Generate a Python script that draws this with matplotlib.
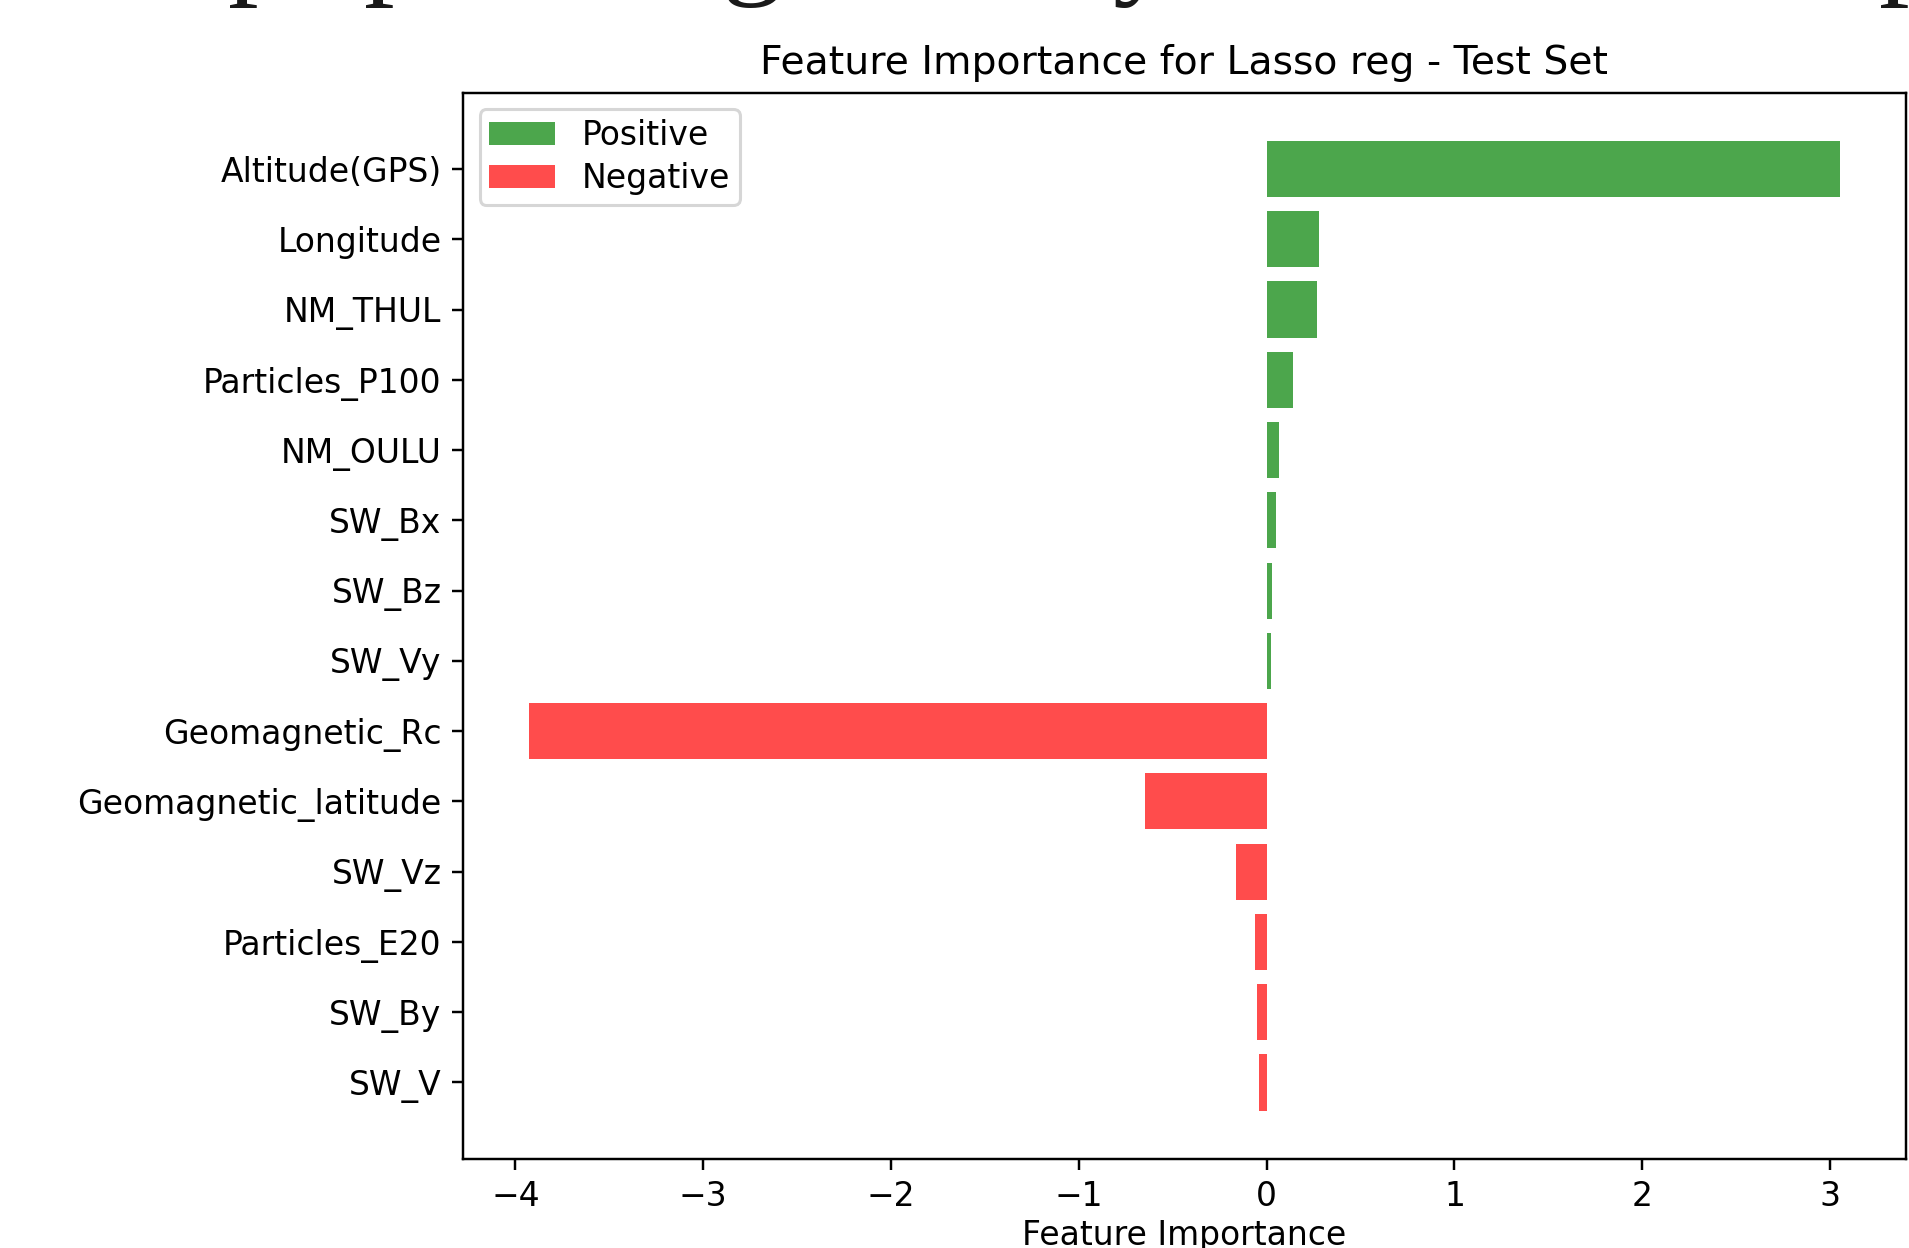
import numpy as np
import matplotlib
matplotlib.use("Agg")
import matplotlib.pyplot as plt

# Lasso coefficients on the test set, listed top to bottom
features = ["Altitude(GPS)", "Longitude", "NM_THUL", "Particles_P100", "NM_OULU",
            "SW_Bx", "SW_Bz", "SW_Vy", "Geomagnetic_Rc", "Geomagnetic_latitude",
            "SW_Vz", "Particles_E20", "SW_By", "SW_V"]
importance = [3.055, 0.277, 0.267, 0.14, 0.065,
              0.05, 0.027, 0.025, -3.93, -0.646,
              -0.163, -0.064, -0.051, -0.039]

# bits of the page text that sit above the figure
page_chars = ["p", "p", "g", "y", "p"]
page_x = [228, 364, 722, 1112, 1879]

W, H, DPI = 1909, 1248, 220


def main():
    plt.rcParams["font.size"] = 10.8
    imp = np.array(importance)
    pos = np.arange(len(features))
    is_pos = imp >= 0

    fig = plt.figure(figsize=(W / DPI, H / DPI), dpi=DPI)
    ax = fig.add_axes([463 / W, 1 - 1159 / H, (1906 - 463) / W, (1159 - 92.5) / H])

    ax.barh(pos[is_pos], imp[is_pos], color="green", alpha=0.7, label="Positive")
    ax.barh(pos[~is_pos], imp[~is_pos], color="red", alpha=0.7, label="Negative")
    ax.set_yticks(pos)
    ax.set_yticklabels(features)
    ax.invert_yaxis()
    ax.set_xlabel("Feature Importance", fontsize=10.8, labelpad=2)
    ax.set_title("Feature Importance for Lasso reg - Test Set", fontsize=12.9)
    ax.legend(loc="upper left", fontsize=10.8, borderpad=0.3, labelspacing=0.3)

    # descenders of the surrounding document line, mostly cut off by the top edge
    for ch, x in zip(page_chars, page_x):
        fig.text(x / W, 1 + 18 / H, ch, family="Liberation Serif", fontsize=40,
                 ha="left", va="baseline", color="#1a1a1a")

    fig.savefig("out.png", dpi=DPI)


if __name__ == "__main__":
    main()
